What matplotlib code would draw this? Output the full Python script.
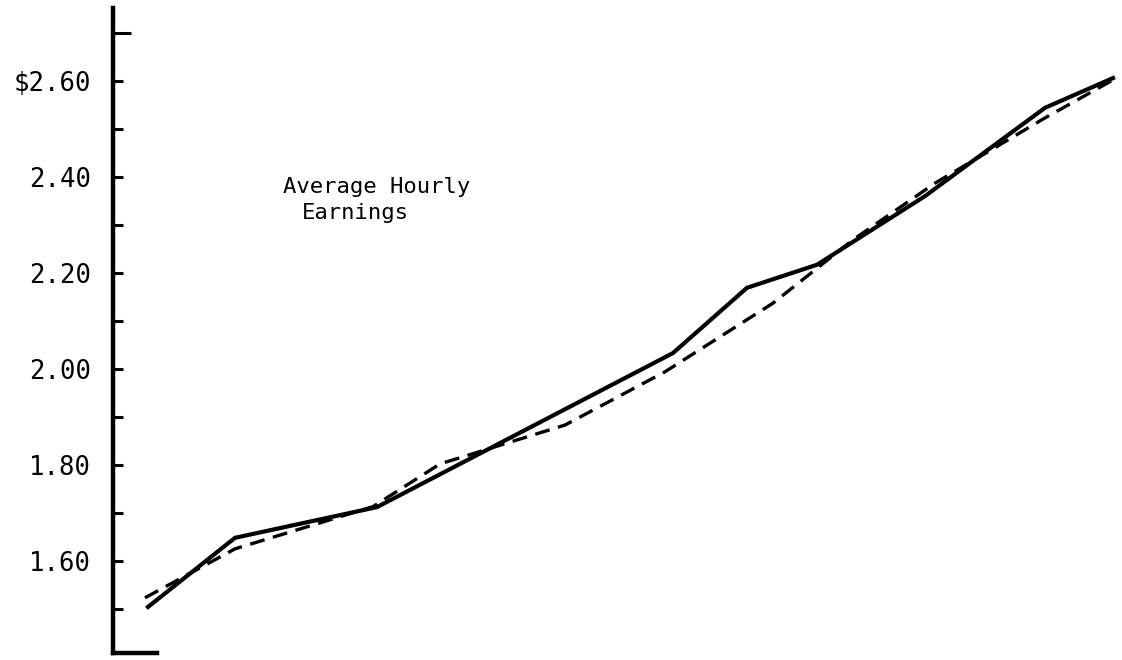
import numpy as np
import matplotlib
matplotlib.use('Agg')
import matplotlib.pyplot as plt
from matplotlib.ticker import FixedLocator, FuncFormatter

# time position (arbitrary period units) and earnings in dollars
ACTUAL_T = [3.5, 12.2, 26.4, 56.0, 63.4, 70.4, 81.2, 93.2, 100.0]
ACTUAL_V = [1.504, 1.648, 1.712, 2.033, 2.169, 2.217, 2.360, 2.544, 2.606]

TREND_T = [3.2, 12.2, 26.0, 32.7, 45.2, 55.2, 66.0, 74.0, 82.2, 89.0, 93.2, 100.0]
TREND_V = [1.523, 1.625, 1.713, 1.802, 1.883, 1.994, 2.137, 2.269, 2.387, 2.471, 2.523, 2.602]

YTICKS = np.round(np.arange(1.5, 2.65, 0.1), 2)
YLABELS = {1.6: '1.60', 1.8: '1.80', 2.0: '2.00', 2.2: '2.20', 2.4: '2.40', 2.6: '$2.60'}
TOP_TICK = 2.7

plt.rcParams['font.family'] = ['DejaVu Sans Mono']

fig = plt.figure(figsize=(11.22, 6.6), dpi=100)
ax = fig.add_axes([113 / 1122, 1 - 653 / 660, 1 - 113 / 1122, 645 / 660])

ax.plot(ACTUAL_T, ACTUAL_V, color='black', lw=3.0, solid_joinstyle='miter')
ax.plot(TREND_T, TREND_V, color='black', lw=2.4, linestyle=(0, (4.5, 2.6)))

ax.set_xlim(0, 100.9)
ax.set_ylim(1.408, 2.752)

for sp in ['top', 'right']:
   ax.spines[sp].set_visible(False)
ax.spines['left'].set_linewidth(3.2)
ax.spines['bottom'].set_linewidth(3.2)
ax.spines['bottom'].set_bounds(0, 4.4)
ax.spines['left'].set_capstyle('projecting')
ax.spines['bottom'].set_capstyle('projecting')

ax.set_xticks([])
ax.yaxis.set_major_locator(FixedLocator(YTICKS))
ax.yaxis.set_minor_locator(FixedLocator([TOP_TICK]))
ax.yaxis.set_major_formatter(FuncFormatter(lambda v, p: YLABELS.get(round(v, 2), '')))
ax.tick_params(axis='y', which='major', direction='in', length=7.5, width=2.2,
               labelsize=18.5, pad=16)
ax.tick_params(axis='y', which='minor', direction='in', length=13, width=2.2)

fig.text(283 / 1122, 1 - 187 / 660, 'Average Hourly', fontsize=16, ha='left', va='center')
fig.text(302 / 1122, 1 - 213 / 660, 'Earnings', fontsize=16, ha='left', va='center')

fig.savefig('out.png', dpi=100, facecolor='white')
